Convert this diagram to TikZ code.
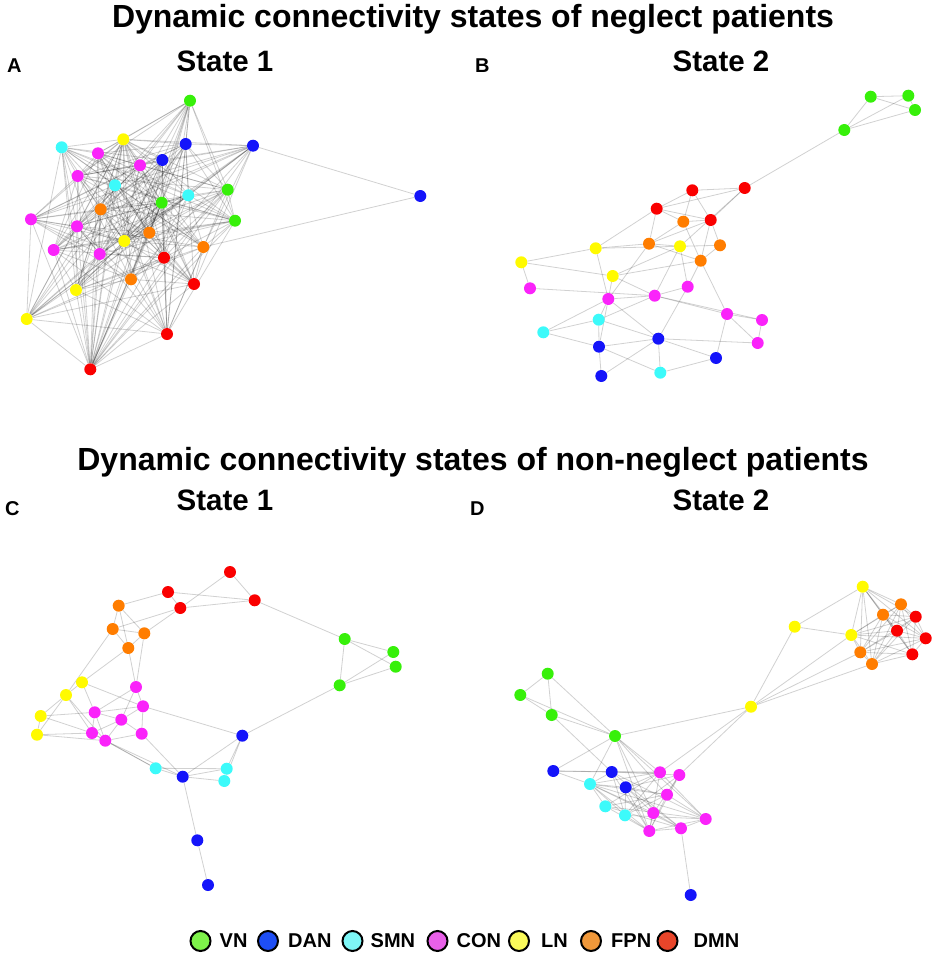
\documentclass[tikz,border=0pt]{standalone}
\usepackage{fontspec}
\setmainfont{Liberation Sans}
\usepackage{xcolor}
\usepackage{tikz}
\usetikzlibrary{positioning}
\usetikzlibrary{backgrounds}
\definecolor{cvn}{RGB}{55,240,10}
\definecolor{cdan}{RGB}{20,20,250}
\definecolor{csmn}{RGB}{60,250,250}
\definecolor{ccon}{RGB}{250,35,250}
\definecolor{cln}{RGB}{255,250,0}
\definecolor{cfpn}{RGB}{255,125,0}
\definecolor{cdmn}{RGB}{250,0,0}
\definecolor{lvn}{RGB}{126,242,74}
\definecolor{ldan}{RGB}{30,78,245}
\definecolor{lsmn}{RGB}{126,247,247}
\definecolor{lcon}{RGB}{232,96,232}
\definecolor{lln}{RGB}{250,250,90}
\definecolor{lfpn}{RGB}{240,152,58}
\definecolor{ldmn}{RGB}{232,69,42}
\tikzset{
    roi/.style = {circle, inner sep=0pt, minimum size=12pt},
    vnnode/.style = {roi, fill=cvn},
    dannode/.style = {roi, fill=cdan},
    smnnode/.style = {roi, fill=csmn},
    connode/.style = {roi, fill=ccon},
    lnnode/.style = {roi, fill=cln},
    fpnnode/.style = {roi, fill=cfpn},
    dmnnode/.style = {roi, fill=cdmn},
    edge/.style = {draw=black, opacity=0.18, line width=0.8pt},
    maintitle/.style = {anchor=base, font=\fontsize{32}{36}\selectfont\bfseries},
    statetitle/.style = {anchor=base, font=\fontsize{29.5}{34}\selectfont\bfseries},
    panel/.style = {anchor=base west, inner sep=0pt, font=\fontsize{20}{24}\selectfont\bfseries},
    legdot/.style = {circle, draw=black, line width=2pt, minimum size=20pt, inner sep=0pt},
    legtext/.style = {inner sep=0pt, font=\fontsize{20}{22}\selectfont\bfseries},
}

\begin{document}
\begin{tikzpicture}[x=1pt, y=-1pt]
  \useasboundingbox (0,0) rectangle (935,955);

  % titles
  \node[maintitle] (top) at (473,28) {Dynamic connectivity states of neglect patients};
  \node[maintitle] (bottom) at (473,470) {Dynamic connectivity states of non-neglect patients};
  \node[statetitle] (sa) at (225,72) {State 1};
  \node[statetitle] (sb) at (721,72) {State 2};
  \node[statetitle] (sc) at (225,510) {State 1};
  \node[statetitle] (sd) at (721,510) {State 2};
  \node[panel] (la) at (7,73) {A};
  \node[panel] (lb) at (475,73) {B};
  \node[panel] (lc) at (5,515) {C};
  \node[panel] (ld) at (470,515) {D};

  % A: neglect, state 1
  \foreach \n/\s/\x/\y in {a1/vnnode/190/100.7, a2/smnnode/61.7/147.3, a3/lnnode/123.3/139.3,
      a4/dannode/185.7/144, a5/dannode/253/145.7, a6/connode/98/153.3, a7/dannode/162.3/160,
      a8/connode/140/165.3, a9/connode/77.7/176, a10/smnnode/115/185.3, a11/vnnode/227.7/189.7,
      a12/smnnode/188.3/195.3, a13/vnnode/161.7/202.7, a14/fpnnode/100.7/209.3, a15/connode/31/219.3,
      a16/vnnode/235/220.7, a17/connode/77/226.3, a18/fpnnode/149.3/232.7, a19/lnnode/124.3/241,
      a20/fpnnode/203.3/247, a21/connode/53.7/250, a22/connode/99.7/254, a23/dmnnode/164/257.7,
      a24/fpnnode/131/279.3, a25/dmnnode/194/284, a26/lnnode/76/290, a27/lnnode/26.7/319,
      a28/dmnnode/167/334, a29/dmnnode/90.3/369.3, a30/dannode/420.3/196}
    \node[\s] (\n) at (\x,\y) {};
  \begin{scope}[on background layer]
    \foreach \i in {1,...,28}{
      \pgfmathtruncatemacro\k{\i+1}
      \foreach \j in {\k,...,29}{
        \pgfmathtruncatemacro\h{mod(\i*17+\j*29+\i*\j*7,10)}
        \ifnum\h<6 \draw[edge] (a\i) -- (a\j); \fi
      }
    }
    \draw[edge] (a30) -- (a5) (a30) -- (a20);
  \end{scope}

  % B: neglect, state 2
  \foreach \n/\s/\x/\y in {b1/vnnode/870.7/96.7, b2/vnnode/908.3/95.7, b3/vnnode/915/110,
      b4/vnnode/844.3/130, b5/dmnnode/692.3/190.3, b6/dmnnode/744.7/188, b7/dmnnode/656.7/208.7,
      b8/fpnnode/683.3/221.7, b9/dmnnode/710.7/220, b10/lnnode/595.7/248.3, b11/fpnnode/649/243.7,
      b12/lnnode/680/246.3, b13/fpnnode/720/245.3, b14/fpnnode/700.7/260.7, b15/lnnode/521.3/262.3,
      b16/lnnode/612.7/276, b17/connode/530/288.3, b18/connode/687.7/286.7, b19/connode/608.3/299,
      b20/connode/654.7/295.7, b21/connode/727/314, b22/connode/762/320, b23/smnnode/598.7/319.7,
      b24/smnnode/543.3/332.3, b25/dannode/658.3/338.7, b26/connode/757.7/343, b27/dannode/599/346.7,
      b28/dannode/716/358, b29/dannode/601.3/376, b30/smnnode/660.3/372.7}
    \node[\s] (\n) at (\x,\y) {};
  \begin{scope}[on background layer]
    \foreach \i/\j in {1/2, 1/4, 2/3, 1/3, 2/4, 3/4, 4/6, 5/6, 5/7, 6/7, 5/8, 5/9, 6/12, 6/9,
        7/8, 7/9, 7/11, 7/10, 8/11, 8/14, 8/9, 9/11, 9/13, 9/14, 10/11, 10/12, 10/15, 10/19,
        11/12, 11/14, 11/19, 12/13, 12/16, 12/18, 12/20, 13/14, 14/16, 14/18, 14/21, 15/16,
        15/17, 16/19, 16/20, 17/20, 19/20, 19/23, 19/24, 19/27, 19/25, 20/18, 20/21, 20/22,
        20/23, 18/25, 21/22, 21/26, 21/28, 22/26, 23/24, 23/25, 23/27, 24/27, 25/27, 25/29,
        25/30, 25/26, 25/28, 27/29, 27/30, 30/28}
      \draw[edge] (b\i) -- (b\j);
  \end{scope}

  % C: non-neglect, state 1
  \foreach \n/\s/\x/\y in {c1/dmnnode/230/572, c2/dmnnode/168/592, c3/dmnnode/254.7/600.3,
      c4/fpnnode/118.7/605.7, c5/dmnnode/180.3/608, c6/fpnnode/112.7/629, c7/fpnnode/144.3/633.3,
      c8/vnnode/344.7/639, c9/fpnnode/128.3/648, c10/vnnode/393.3/652, c11/vnnode/395.7/666.7,
      c12/lnnode/82/682.3, c13/vnnode/339.7/685.3, c14/connode/136/687, c15/lnnode/66/695,
      c16/connode/143/706.3, c17/connode/94.7/712.3, c18/lnnode/40.7/716, c19/connode/121.3/719.7,
      c20/connode/92/733, c21/connode/141.7/733.7, c22/lnnode/37/734.7, c23/dannode/242.3/735.7,
      c24/connode/105.3/740.7, c25/smnnode/155.7/768.3, c26/smnnode/226.7/768.7,
      c27/dannode/182.7/776.7, c28/smnnode/224.3/781, c29/dannode/197.3/840.3, c30/dannode/208/885}
    \node[\s] (\n) at (\x,\y) {};
  \begin{scope}[on background layer]
    \foreach \i/\j in {1/5, 1/3, 2/3, 2/5, 2/4, 3/5, 5/6, 5/7, 4/6, 4/7, 4/9, 6/7, 6/9, 7/9,
        3/8, 8/10, 8/11, 8/13, 10/13, 11/13, 13/23, 6/15, 9/12, 7/14, 9/14, 12/15, 12/16,
        12/17, 15/18, 15/22, 15/20, 15/24, 18/22, 18/17, 18/20, 22/20, 22/24, 14/17, 14/16,
        14/19, 16/17, 16/19, 16/21, 16/23, 17/19, 17/20, 17/24, 19/20, 19/21, 19/24, 20/24,
        21/24, 21/27, 24/25, 24/27, 20/25, 25/27, 27/26, 27/28, 27/23, 26/23, 28/23, 25/26,
        27/29, 29/30}
      \draw[edge] (c\i) -- (c\j);
  \end{scope}

  % D: non-neglect, state 2
  \foreach \n/\s/\x/\y in {d1/lnnode/862.7/586.7, d2/fpnnode/901/604.3, d3/fpnnode/883/614.7,
      d4/dmnnode/915.7/616.7, d5/dmnnode/897/630.7, d6/lnnode/851.3/635, d7/dmnnode/925.7/638.3,
      d8/fpnnode/860.3/652.3, d9/dmnnode/912.3/654.3, d10/fpnnode/872/664, d11/lnnode/794.7/626.7,
      d12/lnnode/751/706.7, d13/vnnode/547.7/673.7, d14/vnnode/520.3/695, d15/vnnode/551.7/715,
      d16/vnnode/615/736, d17/dannode/553.3/771, d18/dannode/611.7/772, d19/connode/660/772.3,
      d20/connode/679.3/775, d21/smnnode/590/784, d22/dannode/625.7/787.3, d23/connode/667/794.7,
      d24/smnnode/605.3/806.3, d25/connode/653.3/813, d26/smnnode/625/815.3, d27/connode/705.7/819,
      d28/connode/681/828.3, d29/connode/649.3/831, d30/dannode/690.7/895}
    \node[\s] (\n) at (\x,\y) {};
  \begin{scope}[on background layer]
    \foreach \i in {1,...,9}{
      \pgfmathtruncatemacro\k{\i+1}
      \foreach \j in {\k,...,10}
        \draw[edge] (d\i) -- (d\j);
    }
    \foreach \i in {16,18,19,...,28}{
      \pgfmathtruncatemacro\k{\i+1}
      \foreach \j in {\k,...,29}{
        \pgfmathtruncatemacro\h{mod(\i*13+\j*7+\i*\j*3,10)}
        \ifnum\j=17 \else \ifnum\h<6 \draw[edge] (d\i) -- (d\j); \fi \fi
      }
    }
    \foreach \i/\j in {11/1, 11/6, 11/12, 12/6, 12/8, 12/10, 12/16, 12/19, 12/20, 13/14,
        13/15, 14/15, 13/16, 14/16, 15/16, 15/18, 16/17, 17/21, 17/18, 17/19, 30/28}
      \draw[edge] (d\i) -- (d\j);
  \end{scope}

  % legend
  \node[legdot, fill=lvn] (k1) at (200.5,941) {};
  \node[legtext, right=8pt of k1] (t1) {VN};
  \node[legdot, fill=ldan] (k2) at (268,941) {};
  \node[legtext, right=9pt of k2] (t2) {DAN};
  \node[legdot, fill=lsmn] (k3) at (352.5,941) {};
  \node[legtext, right=7pt of k3] (t3) {SMN};
  \node[legdot, fill=lcon] (k4) at (437.5,941) {};
  \node[legtext, right=8pt of k4] (t4) {CON};
  \node[legdot, fill=lln] (k5) at (519,941) {};
  \node[legtext, right=11pt of k5] (t5) {LN};
  \node[legdot, fill=lfpn] (k6) at (591,941) {};
  \node[legtext, right=9pt of k6] (t6) {FPN};
  \node[legdot, fill=ldmn] (k7) at (667.5,941) {};
  \node[legtext, right=15pt of k7] (t7) {DMN};
\end{tikzpicture}
\end{document}
